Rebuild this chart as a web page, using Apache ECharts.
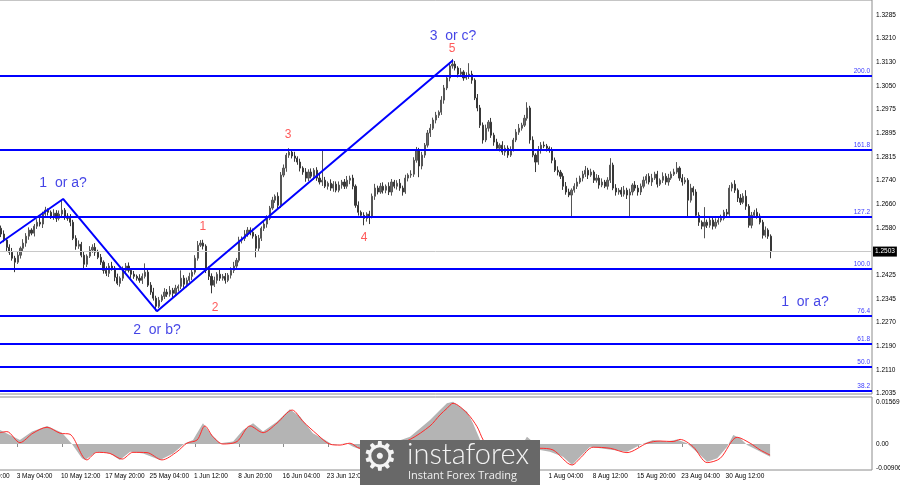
<!DOCTYPE html>
<html><head><meta charset="utf-8">
<script src="https://cdn.jsdelivr.net/npm/echarts@6/dist/echarts.min.js"></script>
<style>html,body{margin:0;padding:0;background:#fff}#c{width:900px;height:485px}</style>
</head><body><div id="c"></div>
<script>
// ---- data ----
const timeLabels = ['26 Apr 20:00','3 May 04:00','10 May 12:00','17 May 20:00','25 May 04:00','1 Jun 12:00','8 Jun 20:00','16 Jun 04:00','23 Jun 12:00','30 Jun 20:00','8 Jul 04:00','15 Jul 12:00','22 Jul 20:00','1 Aug 04:00','8 Aug 12:00','15 Aug 20:00','23 Aug 04:00','30 Aug 12:00'];
const barsPerLabel = 16;      // 8-hour candles between time labels
const slotCount = 325;        // candle slots incl. right margin
const candleStart = 10;       // slot of first candle
const priceTicks = [1.3285,1.3210,1.3130,1.3050,1.2975,1.2895,1.2815,1.2740,1.2660,1.2580,1.2425,1.2345,1.2270,1.2190,1.2110,1.2035];
const lastPrice = 1.2503;
const fibNames = ['200.0','161.8','127.2','100.0','76.4','61.8','50.0','38.2'];
const fibValues = [1.3083,1.2839,1.2617,1.2445,1.2290,1.2197,1.2121,1.2042];
const macdTicks = [0.01569, 0, -0.00906];
// [open, close, low, high]
const ohlc = [
[1.2580,1.2561,1.2551,1.2589],[1.2561,1.2541,1.2534,1.2573],[1.2541,1.2517,1.2505,1.2548],[1.2517,1.2501,1.2492,1.2527],[1.2501,1.2481,1.2473,1.2515],
[1.2481,1.2468,1.2435,1.2489],[1.2468,1.2491,1.2462,1.2502],[1.2491,1.2514,1.2480,1.2520],[1.2514,1.2531,1.2505,1.2544],[1.2531,1.2554,1.2519,1.2564],
[1.2554,1.2574,1.2542,1.2583],[1.2574,1.2564,1.2557,1.2580],[1.2564,1.2587,1.2553,1.2594],[1.2587,1.2600,1.2578,1.2610],[1.2600,1.2594,1.2586,1.2614],
[1.2594,1.2627,1.2581,1.2635],[1.2627,1.2640,1.2621,1.2651],[1.2640,1.2633,1.2622,1.2646],[1.2633,1.2620,1.2611,1.2639],[1.2620,1.2630,1.2608,1.2643],
[1.2630,1.2613,1.2601,1.2640],[1.2613,1.2627,1.2606,1.2639],[1.2627,1.2640,1.2615,1.2673],[1.2640,1.2620,1.2608,1.2647],[1.2620,1.2613,1.2605,1.2630],
[1.2613,1.2600,1.2587,1.2627],[1.2600,1.2547,1.2541,1.2608],[1.2547,1.2521,1.2509,1.2557],[1.2521,1.2527,1.2512,1.2540],[1.2527,1.2491,1.2484,1.2535],
[1.2491,1.2461,1.2448,1.2502],[1.2461,1.2488,1.2452,1.2494],[1.2488,1.2508,1.2482,1.2521],[1.2508,1.2517,1.2499,1.2527],[1.2517,1.2501,1.2489,1.2531],
[1.2501,1.2484,1.2478,1.2509],[1.2484,1.2468,1.2459,1.2495],[1.2468,1.2441,1.2430,1.2474],[1.2441,1.2431,1.2422,1.2454],[1.2431,1.2455,1.2419,1.2465],
[1.2455,1.2448,1.2440,1.2469],[1.2448,1.2418,1.2405,1.2455],[1.2418,1.2398,1.2392,1.2430],[1.2398,1.2415,1.2387,1.2421],[1.2415,1.2441,1.2406,1.2454],
[1.2441,1.2455,1.2429,1.2465],[1.2455,1.2441,1.2434,1.2467],[1.2441,1.2428,1.2416,1.2448],[1.2428,1.2421,1.2413,1.2439],[1.2421,1.2415,1.2407,1.2427],
[1.2415,1.2408,1.2400,1.2428],[1.2408,1.2421,1.2396,1.2431],[1.2421,1.2435,1.2414,1.2464],[1.2435,1.2392,1.2386,1.2442],[1.2392,1.2369,1.2360,1.2402],
[1.2369,1.2349,1.2341,1.2383],[1.2349,1.2322,1.2306,1.2357],[1.2322,1.2342,1.2316,1.2353],[1.2342,1.2355,1.2336,1.2361],[1.2355,1.2369,1.2346,1.2382],
[1.2369,1.2362,1.2353,1.2379],[1.2362,1.2375,1.2354,1.2389],[1.2375,1.2365,1.2352,1.2383],[1.2365,1.2382,1.2359,1.2393],[1.2382,1.2388,1.2371,1.2394],
[1.2388,1.2415,1.2379,1.2441],[1.2415,1.2395,1.2383,1.2425],[1.2395,1.2408,1.2385,1.2417],[1.2408,1.2421,1.2401,1.2433],[1.2421,1.2435,1.2409,1.2442],
[1.2435,1.2481,1.2427,1.2491],[1.2481,1.2524,1.2473,1.2538],[1.2524,1.2531,1.2518,1.2541],[1.2531,1.2521,1.2510,1.2542],[1.2521,1.2441,1.2432,1.2527],
[1.2441,1.2421,1.2409,1.2454],[1.2421,1.2392,1.2365,1.2431],[1.2392,1.2408,1.2386,1.2420],[1.2408,1.2428,1.2397,1.2435],[1.2428,1.2415,1.2406,1.2442],
[1.2415,1.2421,1.2407,1.2429],[1.2421,1.2408,1.2397,1.2432],[1.2408,1.2425,1.2402,1.2432],[1.2425,1.2441,1.2414,1.2451],[1.2441,1.2455,1.2432,1.2469],
[1.2455,1.2474,1.2449,1.2482],[1.2474,1.2541,1.2467,1.2552],[1.2541,1.2547,1.2530,1.2553],[1.2547,1.2561,1.2538,1.2574],[1.2561,1.2574,1.2552,1.2584],
[1.2574,1.2567,1.2557,1.2583],[1.2567,1.2554,1.2546,1.2579],[1.2554,1.2514,1.2484,1.2561],[1.2514,1.2547,1.2505,1.2558],[1.2547,1.2580,1.2538,1.2586],
[1.2580,1.2594,1.2571,1.2607],[1.2594,1.2613,1.2582,1.2623],[1.2613,1.2647,1.2607,1.2654],[1.2647,1.2673,1.2641,1.2684],[1.2673,1.2686,1.2664,1.2692],
[1.2686,1.2656,1.2644,1.2699],[1.2656,1.2756,1.2647,1.2766],[1.2756,1.2779,1.2749,1.2791],[1.2779,1.2822,1.2767,1.2829],[1.2822,1.2832,1.2813,1.2845],
[1.2832,1.2819,1.2811,1.2840],[1.2819,1.2812,1.2800,1.2833],[1.2812,1.2799,1.2790,1.2818],[1.2799,1.2779,1.2768,1.2810],[1.2779,1.2766,1.2757,1.2785],
[1.2766,1.2746,1.2734,1.2779],[1.2746,1.2766,1.2736,1.2775],[1.2766,1.2752,1.2745,1.2778],[1.2752,1.2772,1.2740,1.2779],[1.2772,1.2746,1.2737,1.2782],
[1.2746,1.2733,1.2725,1.2760],[1.2733,1.2739,1.2720,1.2839],[1.2739,1.2719,1.2713,1.2750],[1.2719,1.2729,1.2708,1.2735],[1.2729,1.2713,1.2704,1.2742],
[1.2713,1.2726,1.2701,1.2736],[1.2726,1.2706,1.2699,1.2735],[1.2706,1.2723,1.2699,1.2735],[1.2723,1.2733,1.2711,1.2740],[1.2733,1.2719,1.2710,1.2743],
[1.2719,1.2739,1.2711,1.2753],[1.2739,1.2746,1.2726,1.2754],[1.2746,1.2719,1.2709,1.2757],[1.2719,1.2656,1.2648,1.2725],[1.2656,1.2633,1.2622,1.2669],
[1.2633,1.2623,1.2614,1.2639],[1.2623,1.2613,1.2590,1.2633],[1.2613,1.2627,1.2602,1.2633],[1.2627,1.2620,1.2594,1.2638],[1.2620,1.2686,1.2613,1.2695],
[1.2686,1.2713,1.2674,1.2727],[1.2713,1.2700,1.2692,1.2721],[1.2700,1.2719,1.2694,1.2730],[1.2719,1.2706,1.2695,1.2732],[1.2706,1.2719,1.2696,1.2725],
[1.2719,1.2700,1.2690,1.2732],[1.2700,1.2733,1.2688,1.2743],[1.2733,1.2719,1.2712,1.2740],[1.2719,1.2729,1.2708,1.2739],[1.2729,1.2713,1.2704,1.2743],
[1.2713,1.2700,1.2688,1.2721],[1.2700,1.2746,1.2694,1.2757],[1.2746,1.2756,1.2735,1.2762],[1.2756,1.2759,1.2747,1.2772],[1.2759,1.2805,1.2750,1.2815],
[1.2805,1.2839,1.2797,1.2849],[1.2839,1.2786,1.2749,1.2846],[1.2786,1.2822,1.2775,1.2833],[1.2822,1.2855,1.2813,1.2862],[1.2855,1.2895,1.2847,1.2905],
[1.2895,1.2911,1.2882,1.2925],[1.2911,1.2938,1.2905,1.2946],[1.2938,1.2954,1.2927,1.2965],[1.2954,1.2964,1.2945,1.2970],[1.2964,1.3004,1.2955,1.3017],
[1.3004,1.3044,1.2992,1.3054],[1.3044,1.3077,1.3037,1.3086],[1.3077,1.3117,1.3066,1.3129],[1.3117,1.3123,1.3108,1.3140],[1.3123,1.3110,1.3102,1.3133],
[1.3110,1.3090,1.3079,1.3116],[1.3090,1.3097,1.3081,1.3110],[1.3097,1.3077,1.3068,1.3103],[1.3077,1.3083,1.3071,1.3096],[1.3083,1.3090,1.3074,1.3126],
[1.3090,1.3070,1.3058,1.3101],[1.3070,1.3011,1.3004,1.3076],[1.3011,1.2978,1.2967,1.3024],[1.2978,1.2921,1.2912,1.2988],[1.2921,1.2872,1.2860,1.2930],
[1.2872,1.2911,1.2865,1.2923],[1.2911,1.2931,1.2900,1.2938],[1.2931,1.2888,1.2879,1.2945],[1.2888,1.2865,1.2853,1.2896],[1.2865,1.2845,1.2838,1.2876],
[1.2845,1.2855,1.2834,1.2861],[1.2855,1.2832,1.2823,1.2868],[1.2832,1.2845,1.2820,1.2855],[1.2845,1.2822,1.2813,1.2854],[1.2822,1.2839,1.2816,1.2851],
[1.2839,1.2872,1.2834,1.2879],[1.2872,1.2898,1.2865,1.2908],[1.2898,1.2911,1.2889,1.2925],[1.2911,1.2921,1.2903,1.2929],[1.2921,1.2944,1.2915,1.2955],
[1.2944,1.2978,1.2936,1.2997],[1.2978,1.2872,1.2860,1.2985],[1.2872,1.2822,1.2815,1.2884],[1.2822,1.2799,1.2766,1.2828],[1.2799,1.2839,1.2790,1.2852],
[1.2839,1.2855,1.2827,1.2865],[1.2855,1.2852,1.2845,1.2867],[1.2852,1.2845,1.2834,1.2859],[1.2845,1.2839,1.2830,1.2851],[1.2839,1.2805,1.2795,1.2848],
[1.2805,1.2772,1.2766,1.2814],[1.2772,1.2766,1.2755,1.2785],[1.2766,1.2752,1.2743,1.2773],[1.2752,1.2719,1.2707,1.2762],[1.2719,1.2700,1.2691,1.2733],
[1.2700,1.2690,1.2683,1.2711],[1.2690,1.2706,1.2617,1.2712],[1.2706,1.2719,1.2698,1.2729],[1.2719,1.2733,1.2710,1.2747],[1.2733,1.2746,1.2727,1.2754],
[1.2746,1.2759,1.2735,1.2770],[1.2759,1.2772,1.2750,1.2786],[1.2772,1.2756,1.2743,1.2780],[1.2756,1.2766,1.2750,1.2777],[1.2766,1.2739,1.2730,1.2772],
[1.2739,1.2746,1.2731,1.2759],[1.2746,1.2723,1.2711,1.2756],[1.2723,1.2733,1.2716,1.2745],[1.2733,1.2719,1.2713,1.2740],[1.2719,1.2739,1.2708,1.2749],
[1.2739,1.2789,1.2730,1.2812],[1.2789,1.2713,1.2706,1.2797],[1.2713,1.2700,1.2688,1.2726],[1.2700,1.2706,1.2691,1.2713],[1.2706,1.2693,1.2684,1.2716],
[1.2693,1.2706,1.2685,1.2720],[1.2706,1.2690,1.2677,1.2714],[1.2690,1.2700,1.2617,1.2711],[1.2700,1.2723,1.2689,1.2729],[1.2723,1.2713,1.2704,1.2736],
[1.2713,1.2700,1.2688,1.2723],[1.2700,1.2719,1.2690,1.2728],[1.2719,1.2739,1.2712,1.2751],[1.2739,1.2752,1.2728,1.2759],[1.2752,1.2733,1.2725,1.2762],
[1.2733,1.2746,1.2720,1.2760],[1.2746,1.2759,1.2740,1.2767],[1.2759,1.2726,1.2715,1.2770],[1.2726,1.2739,1.2720,1.2745],[1.2739,1.2752,1.2730,1.2765],
[1.2752,1.2733,1.2724,1.2762],[1.2733,1.2746,1.2721,1.2760],[1.2746,1.2759,1.2740,1.2768],[1.2759,1.2766,1.2753,1.2777],[1.2766,1.2779,1.2760,1.2799],
[1.2779,1.2746,1.2737,1.2785],[1.2746,1.2733,1.2721,1.2759],[1.2733,1.2739,1.2726,1.2749],[1.2739,1.2673,1.2617,1.2746],[1.2673,1.2713,1.2665,1.2727],
[1.2713,1.2700,1.2688,1.2719],[1.2700,1.2623,1.2614,1.2709],[1.2623,1.2600,1.2588,1.2633],[1.2600,1.2587,1.2577,1.2606],[1.2587,1.2600,1.2547,1.2650],
[1.2600,1.2590,1.2581,1.2609],[1.2590,1.2607,1.2582,1.2620],[1.2607,1.2587,1.2576,1.2614],[1.2587,1.2600,1.2579,1.2613],[1.2600,1.2607,1.2592,1.2617],
[1.2607,1.2613,1.2600,1.2625],[1.2613,1.2633,1.2606,1.2641],[1.2633,1.2627,1.2618,1.2644],[1.2627,1.2713,1.2621,1.2723],[1.2713,1.2726,1.2702,1.2732],
[1.2726,1.2706,1.2697,1.2739],[1.2706,1.2680,1.2667,1.2712],[1.2680,1.2666,1.2657,1.2693],[1.2666,1.2686,1.2660,1.2696],[1.2686,1.2653,1.2641,1.2706],
[1.2653,1.2590,1.2582,1.2660],[1.2590,1.2623,1.2580,1.2634],[1.2623,1.2633,1.2617,1.2641],[1.2633,1.2620,1.2612,1.2646],[1.2620,1.2600,1.2593,1.2629],
[1.2600,1.2557,1.2546,1.2608],[1.2557,1.2574,1.2550,1.2586],[1.2574,1.2554,1.2545,1.2580],[1.2554,1.2503,1.2481,1.2560]
];
// wave lines: [slot, price]
const wavePath = [[9,1.2527],[32.4,1.2677],[66.3,1.2306],[173.2,1.3136]];
const blueTexts = ['1  or a?','2  or b?','3  or c?','1  or a?'];
const blueSlots = [32.4,66.3,173.2,300.3];
const bluePrices = [1.2729,1.2243,1.3216,1.2336];
const redTexts = ['1','2','3','4','5'];
const redSlots = [82.9,87.3,113.6,141.1,172.9];
const redPrices = [1.2584,1.2316,1.2888,1.2548,1.3173];
// MACD main (histogram) and signal: [slot, value]
const macdMain = [[9.6,0.0052],[16.8,0.0015],[21.2,0.0046],[26.6,0.0067],[32,0.0042],[35.6,0],[39.2,-0.0053],[40.3,-0.0059],[44.6,-0.0029],[49.3,-0.0035],[52.9,-0.0059],[56.6,-0.0029],[61.3,-0.0035],[67.4,-0.0059],[72.1,-0.0035],[76.4,0.0003],[79.3,0.0015],[82.9,0.0077],[85.5,0.0040],[89.1,0.0003],[93.8,0.0009],[97.4,0.0052],[101,0.0077],[104.6,0.0046],[109.6,0.0083],[114.3,0.0129],[118,0.0101],[122.6,0.0040],[127,0.0015],[129.9,-0.0004],[134.9,0.0003],[137.1,-0.0010],[141.4,-0.0026],[146.8,-0.0015],[152.3,0.0007],[157.7,0.0027],[164.9,0.0089],[168.5,0.0126],[171,0.0151],[173.2,0.0157],[178.3,0.0120],[180.4,0.0077],[183,0.0015],[185.5,-0.0011],[188.4,-0.0052],[191.3,-0.0090],[194.2,-0.0074],[197.1,-0.0022],[199.9,0.0027],[202.1,0.0007],[204.6,-0.0022],[208.2,-0.0029],[212.9,-0.0047],[216.2,-0.0078],[219.1,-0.0047],[222.7,-0.0010],[226.3,-0.0016],[231,-0.0022],[236,-0.0029],[240.7,-0.0004],[245.4,0.0015],[250.5,0.0009],[254.1,0.0017],[257.7,0.0003],[262.4,-0.0041],[265,-0.0066],[268.6,-0.0053],[272.2,-0.0010],[274.4,0.0033],[276.9,0.0021],[279.4,-0.0004],[283,-0.0022],[287.7,-0.0047]];
const macdSignal = [[9.6,0.0042],[12.1,0.0046],[16.8,0.0005],[21.5,0.0040],[26.6,0.0062],[31.3,0.0040],[34.9,0.0036],[41,-0.0059],[44.6,-0.0031],[49.3,-0.0035],[53.7,-0.0056],[57.6,-0.0031],[62.7,-0.0032],[68.1,-0.0059],[73.5,-0.0029],[77.1,0.0003],[80.8,0.0015],[83.6,0.0067],[86.5,0.0027],[90.1,0],[95.2,0.0009],[99.9,0.0067],[104.6,0.0042],[109.6,0.0077],[115.1,0.0126],[119.1,0.0083],[124.1,0.0036],[128.8,-0.0001],[132.4,-0.0004],[136,0.0003],[139.6,-0.0016],[146.8,-0.0011],[152.3,0],[157.7,0.0017],[164.9,0.0067],[168.5,0.0108],[171,0.0132],[173.2,0.0151],[178.3,0.0114],[181.9,0.0064],[184.1,0.0015],[186.6,-0.0015],[190.2,-0.0045],[193.9,-0.0067],[197.5,-0.0052],[201.1,-0.0022],[204.6,-0.0016],[209.3,-0.0022],[216.2,-0.0078],[219.1,-0.0053],[223.8,-0.0012],[230,-0.0016],[236,-0.0032],[243.3,0.0003],[248,0.0011],[252.7,0.0009],[255.2,0.0017],[259.9,-0.0010],[265,-0.0069],[269.7,-0.0053],[275.8,0.0025],[280.5,0.0003],[284.1,-0.0022],[287.7,-0.0041]];

// ---- build ----
const categories = [];
for (let i = 0; i < slotCount; i++) categories.push(String(i));
const candleData = categories.map((c, i) => (i >= candleStart && i < candleStart + ohlc.length) ? ohlc[i - candleStart] : '-');
const timeSlots = timeLabels.map((t, k) => k * barsPerLabel);
const FONT = 'Liberation Sans';
const AX = '#8c8c8c';
const gridL = -28, gridR = 28;

const chart = echarts.init(document.getElementById('c'), null, {renderer: 'canvas'});
chart.setOption({
  animation: false,
  backgroundColor: '#ffffff',
  textStyle: {fontFamily: FONT},
  grid: [
    {left: gridL, right: gridR, top: 0, height: 394, show: true, borderColor: AX, borderWidth: 1, backgroundColor: 'transparent', containLabel: false, outerBoundsMode: 'none'},
    {left: gridL, right: gridR, top: 397, height: 73, show: true, borderColor: AX, borderWidth: 1, backgroundColor: 'transparent', containLabel: false, outerBoundsMode: 'none'}
  ],
  xAxis: [
    {type: 'category', gridIndex: 0, data: categories, boundaryGap: true, show: false},
    {type: 'value', gridIndex: 0, min: -0.5, max: slotCount - 0.5, show: false},
    {type: 'value', gridIndex: 1, min: -0.5, max: slotCount - 0.5, position: 'bottom',
      axisLine: {show: false}, splitLine: {show: false},
      axisTick: {show: true, customValues: timeSlots, length: 3, lineStyle: {color: AX}},
      axisLabel: {show: true, customValues: timeSlots, formatter: v => timeLabels[Math.round(v / barsPerLabel)] || '',
        align: 'left', padding: [0, 0, 0, -1], margin: 3, fontSize: 6.5, color: '#000', fontFamily: FONT}}
  ],
  yAxis: [
    {type: 'value', gridIndex: 0, position: 'right', min: 1.2032, max: 1.3335, scale: true,
      axisLine: {show: false}, splitLine: {show: false},
      axisTick: {show: true, customValues: priceTicks, length: 3, lineStyle: {color: AX}},
      axisLabel: {show: true, customValues: priceTicks, formatter: v => v.toFixed(4), margin: 4, fontSize: 6.5, color: '#000', fontFamily: FONT}},
    {type: 'value', gridIndex: 1, position: 'right', min: -0.00965, max: 0.01744,
      axisLine: {show: false}, splitLine: {show: false},
      axisTick: {show: true, customValues: macdTicks, length: 3, lineStyle: {color: AX}},
      axisLabel: {show: true, customValues: macdTicks, formatter: v => v === 0 ? '0.00' : v.toFixed(5), margin: 4, fontSize: 6.5, color: '#000', fontFamily: FONT}}
  ],
  series: [
    {type: 'candlestick', xAxisIndex: 0, yAxisIndex: 0, data: candleData, barWidth: 1.6, silent: true,
      itemStyle: {color: '#6a6a6a', color0: '#383838', borderColor: '#555', borderColor0: '#383838', borderWidth: 1}},
    {type: 'line', xAxisIndex: 1, yAxisIndex: 0, data: wavePath, symbol: 'none', silent: true, z: 5,
      lineStyle: {color: '#0000ff', width: 2},
      markLine: {silent: true, symbol: ['none', 'none'], animation: false, precision: 5,
        data: fibValues.map((v, k) => ({yAxis: v, lineStyle: {color: '#0000ff', width: 2, type: 'solid'},
          label: {show: true, formatter: fibNames[k], position: 'insideEndTop', distance: [2, 1], color: '#3b3bff', fontSize: 6.5, fontFamily: FONT}}))
          .concat([{yAxis: lastPrice, lineStyle: {color: '#c8c8c8', width: 1, type: 'solid'},
            label: {show: true, formatter: lastPrice.toFixed(4), position: 'end', distance: 1, color: '#fff', backgroundColor: '#000', padding: [2, 2, 1, 2], fontSize: 6.5, fontFamily: FONT}}])}},
    {type: 'scatter', xAxisIndex: 1, yAxisIndex: 0, silent: true, symbolSize: 1, itemStyle: {color: 'rgba(0,0,0,0)'}, z: 6,
      data: blueTexts.map((t, k) => [blueSlots[k], bluePrices[k], t]),
      label: {show: true, position: 'inside', formatter: p => p.data[2], color: '#1414e0', fontSize: 14, fontFamily: FONT}},
    {type: 'scatter', xAxisIndex: 1, yAxisIndex: 0, silent: true, symbolSize: 1, itemStyle: {color: 'rgba(0,0,0,0)'}, z: 6,
      data: redTexts.map((t, k) => [redSlots[k], redPrices[k], t]),
      label: {show: true, position: 'inside', formatter: p => p.data[2], color: '#ff3030', fontSize: 12, fontFamily: FONT}},
    {type: 'line', xAxisIndex: 2, yAxisIndex: 1, data: macdMain, symbol: 'none', silent: true,
      lineStyle: {width: 0, color: '#b4b4b4'}, areaStyle: {color: '#b4b4b4', opacity: 1, origin: 0}},
    {type: 'line', xAxisIndex: 2, yAxisIndex: 1, data: macdSignal, symbol: 'none', silent: true, smooth: 0.3,
      lineStyle: {width: 1, color: '#ff2a2a'}}
  ],
  graphic: [
    {type: 'rect', left: 360, top: 440, z: 100, zlevel: 1, shape: {width: 180, height: 45}, style: {fill: '#686868'}},
    {type: 'text', left: 362, top: 440, z: 101, zlevel: 1, style: {text: '\u2699', fill: '#f4f4f4', font: '40px "DejaVu Sans"'}},
    {type: 'text', left: 407, top: 440, z: 101, zlevel: 1, style: {text: 'instaforex', fill: '#f4f4f4', font: '300 29px Lato'}},
    {type: 'text', left: 408, top: 470, z: 101, zlevel: 1, style: {text: 'Instant Forex Trading', fill: '#f0f0f0', font: '11px "Open Sans"'}}
  ]
});
</script>
</body></html>
